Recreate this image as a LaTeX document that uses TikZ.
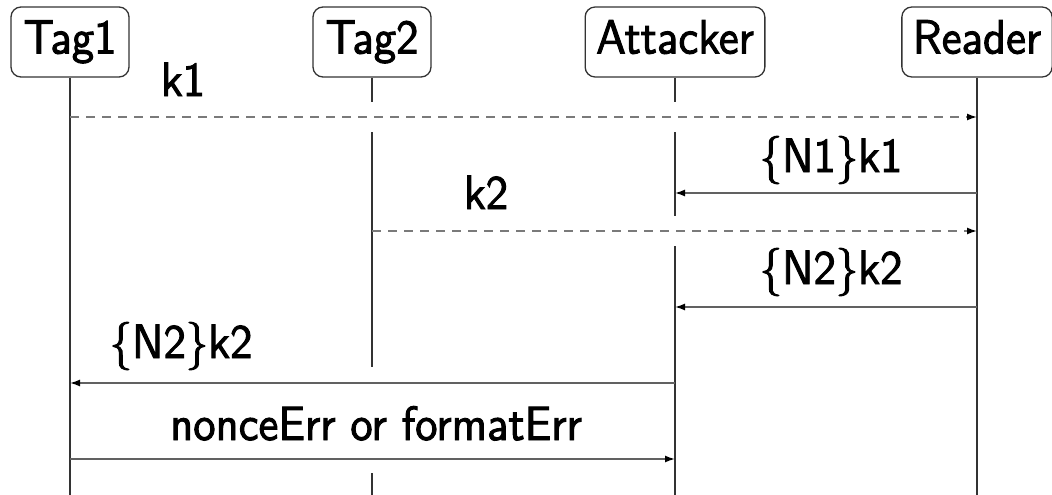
\documentclass[tikz,border=0pt]{standalone}
\usepackage{fontspec}
\newfontfamily\diagramfont{lmsans10-regular.otf}[FakeStretch=0.93,FakeBold=2]
\usetikzlibrary{arrows.meta,calc}

\tikzset{
  every node/.style={font=\diagramfont\fontsize{48}{58}\selectfont},
  actor/.style={draw=black!80, line width=1.3pt, rounded corners=10pt,
    minimum height=70pt, minimum width=118pt, inner xsep=11pt, inner ysep=0pt,
    text height=34pt, text depth=11pt},
  msglabel/.style={anchor=base, inner sep=0pt},
  lifeline/.style={draw=black!80, line width=1.3pt},
  msgsolid/.style={draw=black!62, line width=1.5pt,
    -{Latex[length=10pt,width=7pt,color=black]}},
  msgdashed/.style={draw=black!52, line width=1.5pt, dash pattern=on 9pt off 7pt,
    -{Latex[length=10pt,width=7pt,color=black]}},
}

\begin{document}
\begin{tikzpicture}[x=1pt,y=-1pt]
  \useasboundingbox (0,0) rectangle (1052,495);

  % participants
  \node[actor] (tag1)   at (70,42)  {Tag1};
  \node[actor] (tag2)   at (372,42) {Tag2};
  \node[actor] (att)    at (675,42) {Attacker};
  \node[actor] (reader) at (977,42) {Reader};

  % message rows and the bottom of the lifelines
  \coordinate (r1) at (0,117);
  \coordinate (r2) at (0,193);
  \coordinate (r3) at (0,231);
  \coordinate (r4) at (0,307);
  \coordinate (r5) at (0,383);
  \coordinate (r6) at (0,459);
  \coordinate (bot) at (0,495);

  % lifelines, broken where a message passes over them
  \draw[lifeline] (tag1.south) -- (tag1 |- bot);
  \draw[lifeline] (reader.south) -- (reader |- bot);
  \draw[lifeline] (tag2.south) -- ($(tag2 |- r1)+(0,-15)$)
                  ($(tag2 |- r1)+(0,15)$) -- ($(tag2 |- r5)+(0,-16)$)
                  ($(tag2 |- r6)+(0,14)$) -- (tag2 |- bot);
  \draw[lifeline] (att.south) -- ($(att |- r1)+(0,-15)$)
                  ($(att |- r1)+(0,15)$) -- ($(att |- r3)+(0,-15)$)
                  ($(att |- r3)+(0,15)$) -- (att |- bot);

  % messages
  \draw[msgdashed] (tag1 |- r1) -- (reader |- r1);
  \draw[msgsolid]  (reader |- r2) -- (att |- r2);
  \draw[msgdashed] (tag2 |- r3) -- (reader |- r3);
  \draw[msgsolid]  (reader |- r4) -- (att |- r4);
  \draw[msgsolid]  (att |- r5) -- (tag1 |- r5);
  \draw[msgsolid]  (tag1 |- r6) -- (att |- r6);

  % message labels
  \node[msglabel] (l1) at (183,96)  {k1};
  \node[msglabel] (l2) at (831,172) {\{N1\}k1};
  \node[msglabel] (l3) at (486,209) {k2};
  \node[msglabel] (l4) at (831,284) {\{N2\}k2};
  \node[msglabel] (l5) at (181,358) {\{N2\}k2};
  \node[msglabel] (l6) at (376,440) {nonceErr or formatErr};
\end{tikzpicture}
\end{document}
